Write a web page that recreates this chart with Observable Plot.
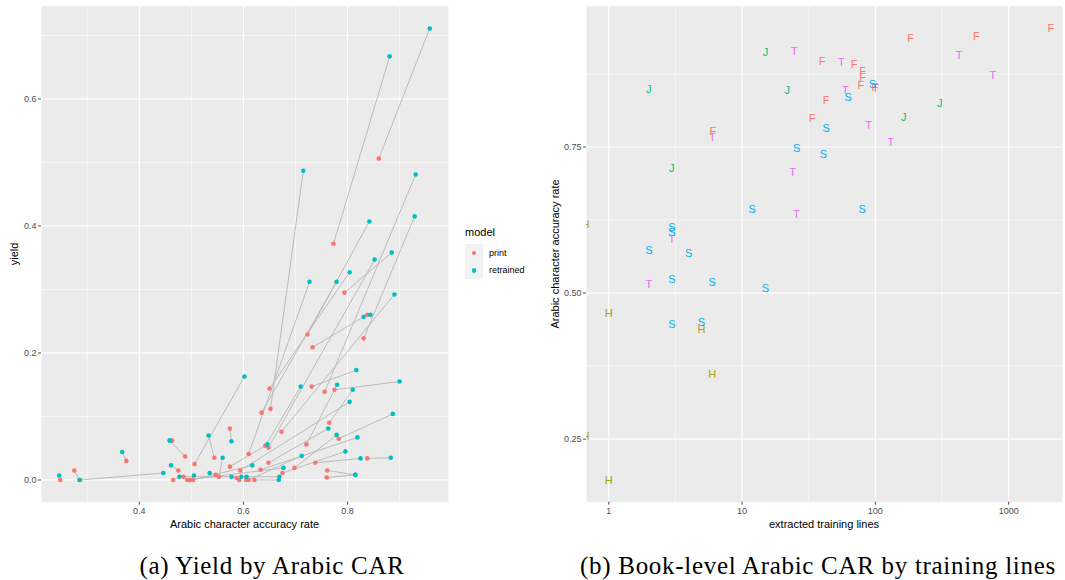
<!DOCTYPE html>
<html><head><meta charset="utf-8">
<script src="https://cdn.jsdelivr.net/npm/d3@7"></script>
<script src="https://cdn.jsdelivr.net/npm/@observablehq/plot@0.6"></script>
<style>
html,body{margin:0;padding:0;background:#fff;}
body{width:1065px;height:580px;position:relative;overflow:hidden;font-family:"Liberation Sans",Arial,sans-serif;}
.abs{position:absolute;white-space:nowrap;line-height:1;}
.atitle{font-size:11px;color:#000;}
.cap{font-family:"Liberation Serif","DejaVu Serif",serif;font-size:25px;letter-spacing:0.7px;color:#000;}
</style></head><body>
<div id="left" class="abs" style="left:0;top:0"></div>
<div id="right" class="abs" style="left:540px;top:0"></div>

<div class="abs atitle" style="left:14px;top:254px;transform:translate(-50%,-50%) rotate(-90deg);">yield</div>
<div class="abs atitle" style="left:244.5px;top:518.7px;transform:translateX(-50%);">Arabic character accuracy rate</div>
<div class="abs atitle" style="left:555px;top:254px;transform:translate(-50%,-50%) rotate(-90deg);">Arabic character accuracy rate</div>
<div class="abs atitle" style="left:824px;top:518.7px;transform:translateX(-50%);">extracted training lines</div>

<div class="abs" style="left:465px;top:227px;font-size:11px;">model</div>
<div class="abs" style="left:465px;top:244px;width:17.5px;height:35px;background:#F2F2F2;"></div>
<div class="abs" style="left:471.7px;top:250.5px;width:4.6px;height:4.6px;border-radius:50%;background:#F8766D;"></div>
<div class="abs" style="left:471.7px;top:268px;width:4.6px;height:4.6px;border-radius:50%;background:#00BFC4;"></div>
<div class="abs" style="left:489px;top:248.5px;font-size:9px;">print</div>
<div class="abs" style="left:489px;top:266px;font-size:9px;">retrained</div>

<div class="abs cap" style="left:272px;top:553px;transform:translateX(-50%);">(a) Yield by Arabic CAR</div>
<div class="abs cap" style="left:818px;top:553px;transform:translateX(-50%);">(b) Book-level Arabic CAR by training lines</div>

<script>
// ---- Panel (a): yield by Arabic CAR, one row per book (print -> retrained)
const printCAR = [0.860,0.773,0.652,0.756,0.723,0.831,0.794,0.648,0.650,0.610,0.635,0.673,0.733,0.838,0.506,0.731,0.775,0.642,0.721,0.765,0.594,0.783,0.648,0.698,0.633,0.574,0.675,0.610,0.738,0.838,0.503,0.492,0.760,0.621,0.485,0.248,0.286,0.375,0.488,0.475,0.465,0.497,0.544,0.547,0.574,0.553,0.587,0.592,0.605,0.275,0.463,0.761];
const printYield = [0.506,0.372,0.112,0.139,0.229,0.223,0.295,0.051,0.144,0.041,0.106,0.076,0.209,0.260,0.025,0.147,0.142,0.054,0.056,0.090,0.015,0.065,0.027,0.019,0.016,0.021,0.011,0.000,0.027,0.034,0.000,0.000,0.004,0.000,0.005,0.000,0.000,0.030,0.037,0.015,0.000,0.000,0.035,0.008,0.081,0.005,0.003,0.000,0.000,0.015,0.062,0.015];
const retrainedCAR = [0.958,0.881,0.715,0.931,0.842,0.929,0.885,0.852,0.804,0.727,0.779,0.890,0.831,0.844,0.602,0.817,0.900,0.710,0.780,0.810,0.804,0.887,0.763,0.779,0.819,0.646,0.796,0.712,0.825,0.883,0.617,0.677,0.815,0.668,0.669,0.246,0.446,0.367,0.458,0.461,0.477,0.505,0.533,0.535,0.577,0.560,0.577,0.596,0.606,0.285,0.459,0.815];
const retrainedYield = [0.711,0.667,0.487,0.481,0.407,0.415,0.358,0.347,0.327,0.312,0.312,0.292,0.257,0.260,0.163,0.173,0.155,0.147,0.150,0.142,0.123,0.104,0.081,0.071,0.067,0.056,0.045,0.038,0.034,0.035,0.023,0.019,0.008,0.000,0.005,0.007,0.011,0.044,0.062,0.023,0.005,0.007,0.070,0.011,0.061,0.035,0.005,0.005,0.005,0.000,0.062,0.008];
const models = ["print", "retrained"];
const modelColors = ["#F8766D", "#00BFC4"];
const leftMajorX = [0.4, 0.6, 0.8];
const leftMinorX = [0.3, 0.5, 0.7, 0.9];
const leftMajorY = [0.0, 0.2, 0.4, 0.6];
const leftMinorY = [0.1, 0.3, 0.5, 0.7];

// ---- Panel (b): book-level Arabic CAR by extracted training lines
const bookLines = [6.03,2070,573,184,39.9,69.3,80.4,80.4,77.7,99,42.7,33.6,
  14.98,2.0,21.8,2.97,304,163,
  24.7,6.0,24.0,25.6,2.98,2.0,425,760,55.7,59.7,89.2,130.5,100,
  25.7,11.9,2.98,2.98,2.0,3.98,2.98,5.97,14.98,2.98,4.96,95.1,62.5,42.7,40.8,79.6,
  0.67,1.0,4.96,5.97,0.67,1.0];
const bookCAR = [0.777,0.953,0.940,0.936,0.896,0.892,0.879,0.869,0.856,0.852,0.830,0.799,
  0.911,0.848,0.846,0.714,0.825,0.801,
  0.914,0.766,0.707,0.635,0.592,0.514,0.906,0.873,0.895,0.847,0.787,0.757,0.850,
  0.747,0.643,0.613,0.603,0.573,0.568,0.523,0.518,0.508,0.446,0.450,0.857,0.834,0.781,0.737,0.643,
  0.618,0.465,0.438,0.361,0.255,0.180];
const bookGroup = ["F","F","F","F","F","F","F","F","F","F","F","F",
  "J","J","J","J","J","J",
  "T","T","T","T","T","T","T","T","T","T","T","T","T",
  "S","S","S","S","S","S","S","S","S","S","S","S","S","S","S","S",
  "H","H","H","H","H","H"];
const groups = ["F","H","J","S","T"];
const groupColors = ["#F8766D","#A3A500","#00BF7D","#00B0F6","#E76BF3"];
const rightMajorX = [1, 10, 100, 1000];
const rightMinorX = [3.162, 31.62, 316.2];
const rightMajorY = [0.25, 0.50, 0.75];
const rightMinorY = [0.375, 0.625, 0.875];

// ---- build tables
const pairs = printCAR.map((_, i) => ({px: printCAR[i], py: printYield[i], rx: retrainedCAR[i], ry: retrainedYield[i]}));
const pts = [];
pairs.forEach(p => { pts.push({x: p.px, y: p.py, model: "print"}); pts.push({x: p.rx, y: p.ry, model: "retrained"}); });
const books = bookLines.map((v, i) => ({lines: v, car: bookCAR[i], g: bookGroup[i]}));

const axisStyle = {color: "#4D4D4D", tickSize: 3, tickPadding: 2, fontSize: 9};
const baseStyle = {background: "transparent", fontFamily: "Liberation Sans, Arial, sans-serif", fontSize: "9px", overflow: "visible"};

const leftPlot = Plot.plot({
  width: 455, height: 535,
  marginLeft: 41, marginRight: 7, marginTop: 5.7, marginBottom: 33.3,
  x: {domain: [0.212, 0.994], label: null},
  y: {domain: [-0.035, 0.746], label: null},
  color: {domain: models, range: modelColors},
  style: baseStyle,
  marks: [
    Plot.frame({fill: "#EBEBEB", stroke: "none"}),
    Plot.ruleX(leftMinorX, {x: d => d, stroke: "#fff", strokeWidth: 0.6}),
    Plot.ruleY(leftMinorY, {y: d => d, stroke: "#fff", strokeWidth: 0.6}),
    Plot.ruleX(leftMajorX, {x: d => d, stroke: "#fff", strokeWidth: 1.2}),
    Plot.ruleY(leftMajorY, {y: d => d, stroke: "#fff", strokeWidth: 1.2}),
    Plot.link(pairs, {x1: "px", y1: "py", x2: "rx", y2: "ry", stroke: "#B5B5B5", strokeWidth: 0.9}),
    Plot.dot(pts, {x: "x", y: "y", fill: "model", r: 2.3, stroke: "none"}),
    Plot.axisX({...axisStyle, ticks: leftMajorX, tickFormat: d3.format(".1f"), label: null}),
    Plot.axisY({...axisStyle, ticks: leftMajorY, tickFormat: d3.format(".1f"), label: null})
  ]
});
document.getElementById("left").appendChild(leftPlot);

const rightPlot = Plot.plot({
  width: 525, height: 535,
  marginLeft: 46, marginRight: 3, marginTop: 5.7, marginBottom: 33.3,
  x: {type: "log", domain: [0.681, 2535], label: null},
  y: {domain: [0.142, 0.991], label: null},
  color: {domain: groups, range: groupColors},
  style: baseStyle,
  marks: [
    Plot.frame({fill: "#EBEBEB", stroke: "none"}),
    Plot.ruleX(rightMinorX, {x: d => d, stroke: "#fff", strokeWidth: 0.6}),
    Plot.ruleY(rightMinorY, {y: d => d, stroke: "#fff", strokeWidth: 0.6}),
    Plot.ruleX(rightMajorX, {x: d => d, stroke: "#fff", strokeWidth: 1.2}),
    Plot.ruleY(rightMajorY, {y: d => d, stroke: "#fff", strokeWidth: 1.2}),
    Plot.text(books, {x: "lines", y: "car", text: "g", fill: "g", fontSize: 11, clip: true}),
    Plot.axisX({...axisStyle, ticks: rightMajorX, tickFormat: d => String(d), label: null}),
    Plot.axisY({...axisStyle, ticks: rightMajorY, tickFormat: d3.format(".2f"), label: null})
  ]
});
document.getElementById("right").appendChild(rightPlot);
</script>
</body></html>
